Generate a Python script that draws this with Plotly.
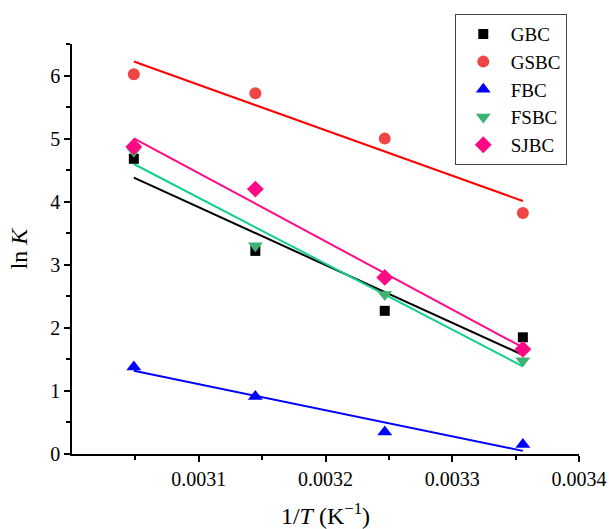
import numpy as np
import plotly.graph_objects as go

# Data
temps = [328, 318, 308, 298]
inv_t = [1.0 / t for t in temps]
series_names = ["GBC", "GSBC", "FBC", "FSBC", "SJBC"]
gbc = [4.68, 3.22, 2.27, 1.85]
gsbc = [6.02, 5.72, 5.00, 3.82]
fbc = [1.38, 0.91, 0.35, 0.15]
fsbc = [4.80, 3.30, 2.53, 1.48]
sjbc = [4.87, 4.20, 2.80, 1.66]
x_ticks = [0.0031, 0.0032, 0.0033, 0.0034]
x_minor = [0.00305, 0.00315, 0.00325, 0.00335]
y_ticks = [0, 1, 2, 3, 4, 5, 6]

values = [gbc, gsbc, fbc, fsbc, sjbc]
marker_colors = ["#000000", "#F04545", "#0000FF", "#3CB371", "#FF0A85"]
line_colors = ["#000000", "#FF0000", "#0000FF", "#10D090", "#FF0A85"]
symbols = ["square", "circle", "triangle-up", "triangle-down", "diamond"]
sizes = [10, 12, 13, 13, 13]

fig = go.Figure()
x = np.array(inv_t)
for name, vals, lc in zip(series_names, values, line_colors):
    k, b = np.polyfit(x, np.array(vals), 1)
    fig.add_trace(go.Scatter(x=inv_t, y=list(k * x + b), mode="lines",
                             line=dict(color=lc, width=2), showlegend=False,
                             hoverinfo="skip"))
for name, vals, mc, sym, sz in zip(series_names, values, marker_colors, symbols, sizes):
    fig.add_trace(go.Scatter(x=inv_t, y=vals, mode="markers", name=name,
                             marker=dict(color=mc, symbol=sym, size=sz,
                                         line=dict(width=0))))

font = "Liberation Serif, Times New Roman, serif"
fig.update_layout(
    width=609, height=529,
    margin=dict(l=72, r=30, t=44, b=75),
    paper_bgcolor="white", plot_bgcolor="white",
    font=dict(family=font, size=20, color="black"),
    showlegend=True,
    legend=dict(x=0.755, y=1.073, xanchor="left", yanchor="top",
                bordercolor="#444444", borderwidth=1, bgcolor="white",
                font=dict(size=19, family=font), itemwidth=45),
)
fig.update_xaxes(
    range=[0.0030, 0.0034], tickvals=x_ticks, ticktext=[f"{v:.4f}" for v in x_ticks],
    automargin=False,
    showgrid=False, zeroline=False, showline=True, linecolor="black", linewidth=1.5,
    ticks="outside", ticklen=6, tickwidth=1.5, tickcolor="black",
    minor=dict(tickvals=x_minor, ticks="outside", ticklen=4, tickwidth=1.5, tickcolor="black"),
    tickfont=dict(size=20),
    title=dict(text="1/<i>T</i> (K<sup>\u22121</sup>)", font=dict(size=24), standoff=20),
)
fig.update_yaxes(
    range=[0, 6.5], tickvals=y_ticks,
    automargin=False,
    showgrid=False, zeroline=False, showline=True, linecolor="black", linewidth=1.5,
    ticks="outside", ticklen=6, tickwidth=1.5, tickcolor="black",
    minor=dict(dtick=0.5, tick0=0, ticks="outside", ticklen=4, tickwidth=1.5, tickcolor="black"),
    tickfont=dict(size=20),
    title=dict(text="ln <i>K</i>", font=dict(size=24), standoff=16),
)
fig.write_html("out.html")
